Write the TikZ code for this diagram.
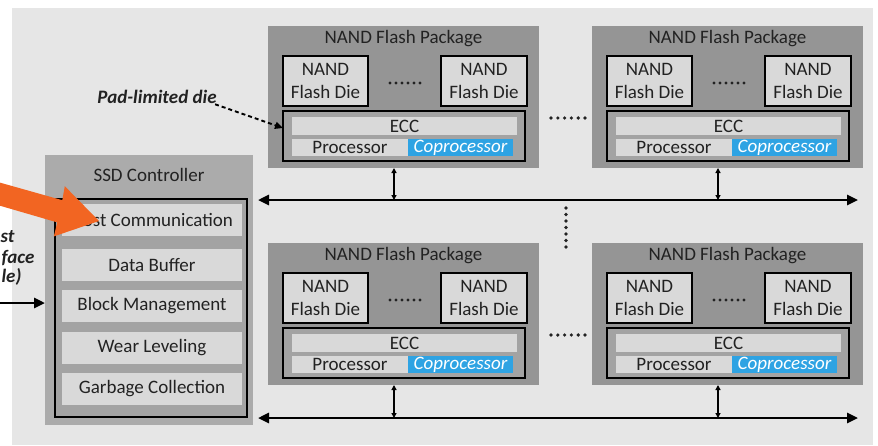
\documentclass[tikz,border=0pt]{standalone}
\usepackage{fontspec}
\setmainfont{Carlito}
\usetikzlibrary{arrows.meta}

\definecolor{panelbg}{HTML}{E6E6E6}
\definecolor{pkgfill}{HTML}{959595}
\definecolor{ctrlfill}{HTML}{ABABAB}
\definecolor{innerfill}{HTML}{A3A3A3}
\definecolor{cellfill}{HTML}{D9D9D9}
\definecolor{copfill}{HTML}{2EA3E3}
\definecolor{hiorange}{RGB}{242,101,34}
\definecolor{inktext}{HTML}{222222}

\tikzset{
  txt/.style={font=\fontsize{19}{23}\selectfont, text=inktext},
  box/.style={rectangle, inner sep=0pt, outer sep=0pt},
  pkgbox/.style={box, fill=pkgfill},
  diebox/.style={box, fill=cellfill, draw=black, line width=2.5pt, txt, align=center},
  eccbox/.style={box, fill=innerfill, draw=black, line width=2.5pt},
  cellbox/.style={box, fill=cellfill, txt},
  copbox/.style={box, fill=copfill, txt, text=white, font=\fontsize{19}{23}\selectfont\itshape},
  ctrlbox/.style={box, fill=ctrlfill},
  itembox/.style={box, fill=cellfill, txt, minimum width=180pt, minimum height=32pt},
  bus/.style={line width=2.6pt, {Triangle[length=11pt,width=10pt]}-{Triangle[length=11pt,width=10pt]}},
  biarrow/.style={line width=1.4pt, {Triangle[length=5pt,width=5pt]}-{Triangle[length=5pt,width=5pt]}},
  hostarrow/.style={line width=2.6pt, -{Triangle[length=11pt,width=10pt]}},
  padarrow/.style={line width=1.9pt, dash pattern=on 4pt off 3pt, -{Triangle[length=8pt,width=7pt]}},
  hosttxt/.style={txt, font=\fontsize{19}{23}\selectfont\bfseries\itshape, anchor=east},
  dotrow/.style={txt, font=\fontsize{19}{23}\selectfont\bfseries}
}

% One NAND flash package; #1 = name prefix, (#2,#3) = top-left corner
\newcommand\flashpkg[3]{%
  \begin{scope}[shift={(#2,#3)}]
    \node[pkgbox, minimum width=271pt, minimum height=142pt] (#1) at (135.5,71) {};
    \node[txt] (#1title) at (135.5,13) {NAND Flash Package};
    \node[diebox, minimum width=85pt, minimum height=50pt] (#1dieA) at (57.5,55) {NAND\\Flash Die};
    \node[diebox, minimum width=86pt, minimum height=50pt] (#1dieB) at (216,55) {NAND\\Flash Die};
    \foreach \k in {0,...,5} \fill[inktext] (122+\k*6,57) circle (1.7pt);
    \node[eccbox, minimum width=242pt, minimum height=50pt] (#1ecc) at (136,110) {};
    \node[cellbox, minimum width=225pt, minimum height=18pt] (#1eccbar) at (136.5,100) {ECC};
    \node[cellbox, minimum width=116pt, minimum height=17pt] (#1proc) at (82,121.5) {Processor};
    \node[copbox, minimum width=105pt, minimum height=17pt] (#1cop) at (192.5,121.5) {Coprocessor};
    \coordinate (#1io) at (126,142);
  \end{scope}}

\begin{document}
\begin{tikzpicture}[x=1pt, y=-1pt]
  \useasboundingbox (0,0) rectangle (878,445);
  \clip (0,0) rectangle (878,445);
  \fill[white] (0,0) rectangle (878,445);
  \fill[panelbg] (12,8) rectangle (873,445);

  % flash packages
  \flashpkg{pa}{268}{26}
  \flashpkg{pb}{592}{26}
  \flashpkg{pc}{268}{243}
  \flashpkg{pd}{592}{243}

  % SSD controller
  \node[ctrlbox, minimum width=208pt, minimum height=270pt] (ctrl) at (149,290) {};
  \node[txt] (ctrltitle) at (149,175) {SSD Controller};
  \node[box, fill=innerfill, draw=black, line width=2.5pt, minimum width=192pt, minimum height=218pt] (ctrlin) at (151,308) {};
  \node[itembox] (hostcomm) at (152,220) {Host Communication};
  \node[itembox] (databuf) at (152,265) {Data Buffer};
  \node[itembox] (blockmgmt) at (152,306) {Block Management};
  \node[itembox] (wearlvl) at (152,348) {Wear Leveling};
  \node[itembox] (gccoll) at (152,389) {Garbage Collection};

  % channel buses
  \coordinate (busTR) at (858,200);
  \coordinate (busBR) at (858,418);
  \draw[bus] ([xshift=5pt]ctrl.east |- busTR) -- (busTR);
  \draw[bus] ([xshift=5pt]ctrl.east |- busBR) -- (busBR);

  % package to bus links
  \draw[biarrow] (paio) -- (paio |- busTR);
  \draw[biarrow] (pbio) -- (pbio |- busTR);
  \draw[biarrow] (pcio) -- (pcio |- busBR);
  \draw[biarrow] (pdio) -- (pdio |- busBR);

  % ellipses between packages
  \foreach \k in {0,...,5} {
    \fill[inktext] (551+\k*6.8,118) circle (1.8pt);
    \fill[inktext] (551+\k*6.8,335) circle (1.8pt);
  }
  \foreach \k in {0,...,6} \fill[inktext] (566,208+\k*6.5) circle (1.8pt);

  % pad-limited die annotation
  \node[txt, font=\fontsize{19}{23}\selectfont\bfseries\itshape] (padlbl) at (157,97) {Pad-limited die};
  \draw[padarrow] ([shift={(-5,-3)}]padlbl.south east) -- ([yshift=-17pt]paecc.north west);

  % host interface
  \coordinate (hostin) at (0,303);
  \draw[hostarrow] (hostin) -- (ctrl.west |- hostin);
  \node[hosttxt] (hostA) at (18,237) {st};
  \node[hosttxt] (hostB) at (38,258) {face};
  \node[hosttxt] (hostC) at (25,277) {le)};

  % highlight arrow
  \fill[hiorange] (-15.7,178.2) -- (62.3,200.2) -- (64.8,186.2) -- (99,221)
    -- (53.8,236.4) -- (57.3,222.4) -- (-21.7,199.4) -- cycle;
\end{tikzpicture}
\end{document}
